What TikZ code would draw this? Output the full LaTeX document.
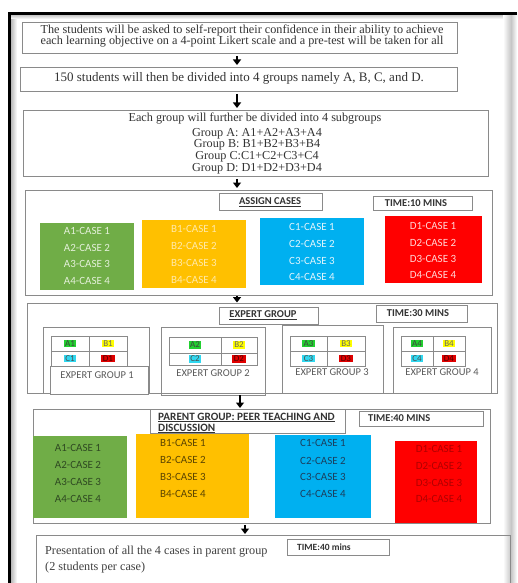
\documentclass[tikz,border=0pt]{standalone}
\usepackage{fontspec}
\setmainfont{Liberation Serif}
\newfontfamily\calfont{Carlito}
\usetikzlibrary{arrows.meta}
\definecolor{boxgray}{HTML}{8A8A8A}
\definecolor{cgreen}{HTML}{70AD47}
\definecolor{cyellow}{HTML}{FFC000}
\definecolor{cblue}{HTML}{00B0F0}
\definecolor{cred}{HTML}{FF0000}
\definecolor{tgreenL}{HTML}{E4F0DA}
\definecolor{tyellowL}{HTML}{FFE9A8}
\definecolor{tblueL}{HTML}{E0F4FC}
\definecolor{tredL}{HTML}{FFD6D6}
\definecolor{tgreenD}{HTML}{2F4A22}
\definecolor{tyellowD}{HTML}{5C4500}
\definecolor{tblueD}{HTML}{1B3F5E}
\definecolor{tredD}{HTML}{B00000}
\definecolor{hlgreen}{HTML}{22D030}
\definecolor{hlyellow}{HTML}{FFFF00}
\definecolor{hlcyan}{HTML}{30D8F0}
\definecolor{hlred}{HTML}{E00000}
\newcommand\mkbox[6][]{\node[bx,#1,anchor=north west,minimum width={(#5-#3)*1pt},minimum height={(#6-#4)*1pt}] (#2) at (#3,#4) {};}
\tikzset{
  bx/.style={draw=boxgray, line width=0.9pt, inner sep=0pt},
  serif/.style={inner sep=0pt, font=\fontsize{12.2}{11}\selectfont, text=black!80},
  serifl/.style={inner sep=0pt, font=\fontsize{13}{13}\selectfont, text=black!80},
  serifs/.style={inner sep=0pt, font=\fontsize{12.2}{12}\selectfont, text=black!75},
  lbl/.style={inner sep=0pt, font=\calfont\bfseries\fontsize{10.5}{12}\selectfont, text=black!80},
  case/.style={inner sep=0pt, font=\calfont\fontsize{11}{12}\selectfont},
  egl/.style={inner sep=0pt, font=\calfont\fontsize{10.5}{12}\selectfont, text=black!65},
  cell/.style={inner xsep=1.5pt, inner ysep=1pt, font=\calfont\fontsize{9}{10}\selectfont},
  grid/.style={draw=boxgray, line width=0.7pt},
  arr/.style={line width=1.6pt, -{Triangle[width=8pt,length=5.5pt]}, shorten <=2pt, shorten >=2pt}
}
\begin{document}
\begin{tikzpicture}[x=1pt,y=-1pt]
\useasboundingbox (0,0) rectangle (517,583);
\clip (0,0) rectangle (517,583);
\fill[white] (0,0) rectangle (517,583);
% page frame
\fill[left color=gray!55, right color=white] (11,14) rectangle (17,583);
\fill[top color=gray!55, bottom color=white] (11,14) rectangle (517,19);
\fill[left color=white, right color=gray!45] (503,14) rectangle (511,583);
\fill[left color=gray!45, right color=white] (511,14) rectangle (517,583);
\draw[black, line width=3pt] (9.5,583) -- (9.5,14) -- (517,14);
% arrow columns
\coordinate (ax1) at (237,0);
\coordinate (ax2) at (240,0);
\coordinate (ax3) at (245,0);
% box 1
\mkbox{b1}{22}{22}{457}{53}
\node[serif] (t1a) at (242,31) {The students will be asked to self-report their confidence in their ability to achieve};
\node[serif] (t1b) at (242,42) {each learning objective on a 4-point Likert scale and a pre-test will be taken for all};
% box 2
\mkbox{b2}{20}{67}{457}{91}
\node[serifl] (t2) at (239,78) {150 students will then be divided into 4 groups namely A, B, C, and D.};
% box 3
\mkbox{b3}{23}{110}{488}{176}
\node[serif] (t3) at (255,119) {Each group will further be divided into 4 subgroups};
\node[serif, align=center, font=\fontsize{12.2}{10.5}\selectfont] (t3g) at (257,151) {Group A: A1+A2+A3+A4\\Group B: B1+B2+B3+B4\\Group C:C1+C2+C3+C4\\Group D: D1+D2+D3+D4};
% box 4 assign cases
\mkbox{b4}{25}{190}{492}{295}
\mkbox{asg}{219}{193}{322}{210}
\node[lbl] (asgt) at (270,202) {\underline{ASSIGN CASES}};
\mkbox{tm10}{373}{196}{472}{210}
\node[lbl] (tm10t) at (416,203) {TIME:10 MINS};
\mkbox[fill=cgreen, draw=none]{ga}{40}{223}{134}{290}
\mkbox[fill=cyellow, draw=none]{ya}{142}{220}{246}{288}
\mkbox[fill=cblue, draw=none]{ca}{260}{218}{364}{285}
\mkbox[fill=cred, draw=none]{ra}{385}{216}{482}{283}
\foreach \i/\y in {1/231,2/247.5,3/264,4/280.5}{
  \node[case, text=tgreenL] (gat\i) at (87,\y) {A\i-CASE \i};}
\foreach \i/\y in {1/229,2/246,3/263,4/279.5}{
  \node[case, text=tyellowL] (yat\i) at (194,\y) {B\i-CASE \i};}
\foreach \i/\y in {1/227,2/244,3/261,4/277}{
  \node[case, text=tblueL] (cat\i) at (312,\y) {C\i-CASE \i};}
\foreach \i/\y in {1/226,2/242.5,3/258.5,4/275}{
  \node[case, text=tredL] (rat\i) at (433,\y) {D\i-CASE \i};}
% box 5 expert group
\mkbox{b5}{27}{303}{497}{393}
\mkbox{exl}{219}{307}{318}{324}
\node[lbl] (exlt) at (263,315) {\underline{EXPERT GROUP}};
\mkbox{tm30}{376}{305}{467}{322}
\node[lbl] (tm30t) at (418,313) {TIME:30 MINS};
% expert subgroups
\mkbox{eg1}{43}{327}{149}{393}
\mkbox{eg2}{161}{327}{265}{395}
\mkbox{eg3}{282}{325}{383}{393}
\mkbox{eg4}{393}{327}{491}{393}
\foreach \n/\xa/\xm/\xb/\ya/\ym/\yb in {1/51/89/127/336/351/366, 2/169/221/257/337/353/365, 3/290/327/365/336/351/366, 4/401/433/465/336/351/366}{
  \draw[grid] (\xa,\ya) rectangle (\xb,\yb) (\xm,\ya) -- (\xm,\yb) (\xa,\ym) -- (\xb,\ym);
  \node[cell, fill=hlgreen, text=black!75] (ea\n) at ({(\xa+\xm)/2},{(\ya+\ym)/2}) {A\n};
  \node[cell, fill=hlyellow, text=black!60] (eb\n) at ({(\xm+\xb)/2},{(\ya+\ym)/2}) {B\n};
  \node[cell, fill=hlcyan, text=black!70] (ec\n) at ({(\xa+\xm)/2},{(\ym+\yb)/2}) {C\n};
  \node[cell, fill=hlred, text=black!70!red] (ed\n) at ({(\xm+\xb)/2},{(\ym+\yb)/2}) {D\n};
}
\mkbox[fill=white]{eg1l}{50}{366}{148}{394}
\node[egl] (eg1t) at (97,375) {EXPERT GROUP 1};
\node[egl] (eg2t) at (213,373) {EXPERT GROUP 2};
\node[egl] (eg3t) at (332,372) {EXPERT GROUP 3};
\node[egl] (eg4t) at (442,372) {EXPERT GROUP 4};
% box 6 parent group
\mkbox{b6}{33}{409}{490}{523}
\mkbox{pgl}{150}{409}{345}{433}
\node[lbl, anchor=west, font=\calfont\bfseries\fontsize{11.2}{12}\selectfont] (pglt1) at (158,417.5) {\underline{PARENT GROUP: PEER TEACHING AND}};
\node[lbl, anchor=west, font=\calfont\bfseries\fontsize{11.2}{12}\selectfont] (pglt2) at (158,428.5) {\underline{DISCUSSION}};
\mkbox{tm40}{359}{411}{483}{426}
\node[lbl, anchor=west] (tm40t) at (368,418.5) {TIME:40 MINS};
\mkbox[fill=cgreen, draw=none]{gb}{33}{436}{127}{518}
\mkbox[fill=cyellow, draw=none]{yb}{136}{434}{249}{518}
\mkbox[fill=cblue, draw=none]{cb}{275}{435}{371}{518}
\mkbox[fill=cred, draw=none]{rb}{395}{441}{477}{523}
\foreach \i/\y in {1/448,2/465,3/482,4/499}{
  \node[case, text=tgreenD] (gbt\i) at (78,\y) {A\i-CASE \i};}
\foreach \i/\y in {1/443,2/460,3/477,4/494}{
  \node[case, text=tyellowD] (ybt\i) at (183,\y) {B\i-CASE \i};}
\foreach \i/\y in {1/443,2/461,3/477,4/494}{
  \node[case, text=tblueD] (cbt\i) at (323,\y) {C\i-CASE \i};}
\foreach \i/\y in {1/449,2/466,3/483,4/499}{
  \node[case, text=tredD] (rbt\i) at (439,\y) {D\i-CASE \i};}
% box 7
\mkbox{b7}{36}{535}{510}{600}
\node[serifs, anchor=west] (t7a) at (45,552) {Presentation of all the 4 cases in parent group};
\node[serifs, anchor=west] (t7b) at (45,568) {(2 students per case)};
\mkbox{tm40b}{287}{539}{389}{555}
\node[lbl, anchor=west, font=\calfont\bfseries\fontsize{9.5}{11}\selectfont] (tm40bt) at (297,547) {TIME:40 mins};
% arrows
\draw[arr] (b1.south -| ax1) -- (b2.north -| ax1);
\draw[arr] (b2.south -| ax1) -- (b3.north -| ax1);
\draw[arr] (b3.south -| ax1) -- (b4.north -| ax1);
\draw[arr, shorten <=0.5pt, shorten >=0.5pt] (b4.south -| ax1) -- (b5.north -| ax1);
\draw[arr, shorten <=1pt, shorten >=1pt] (b5.south -| ax2) -- (b6.north -| ax2);
\draw[arr, shorten <=1pt, shorten >=1pt] (b6.south -| ax3) -- (b7.north -| ax3);
\end{tikzpicture}
\end{document}
